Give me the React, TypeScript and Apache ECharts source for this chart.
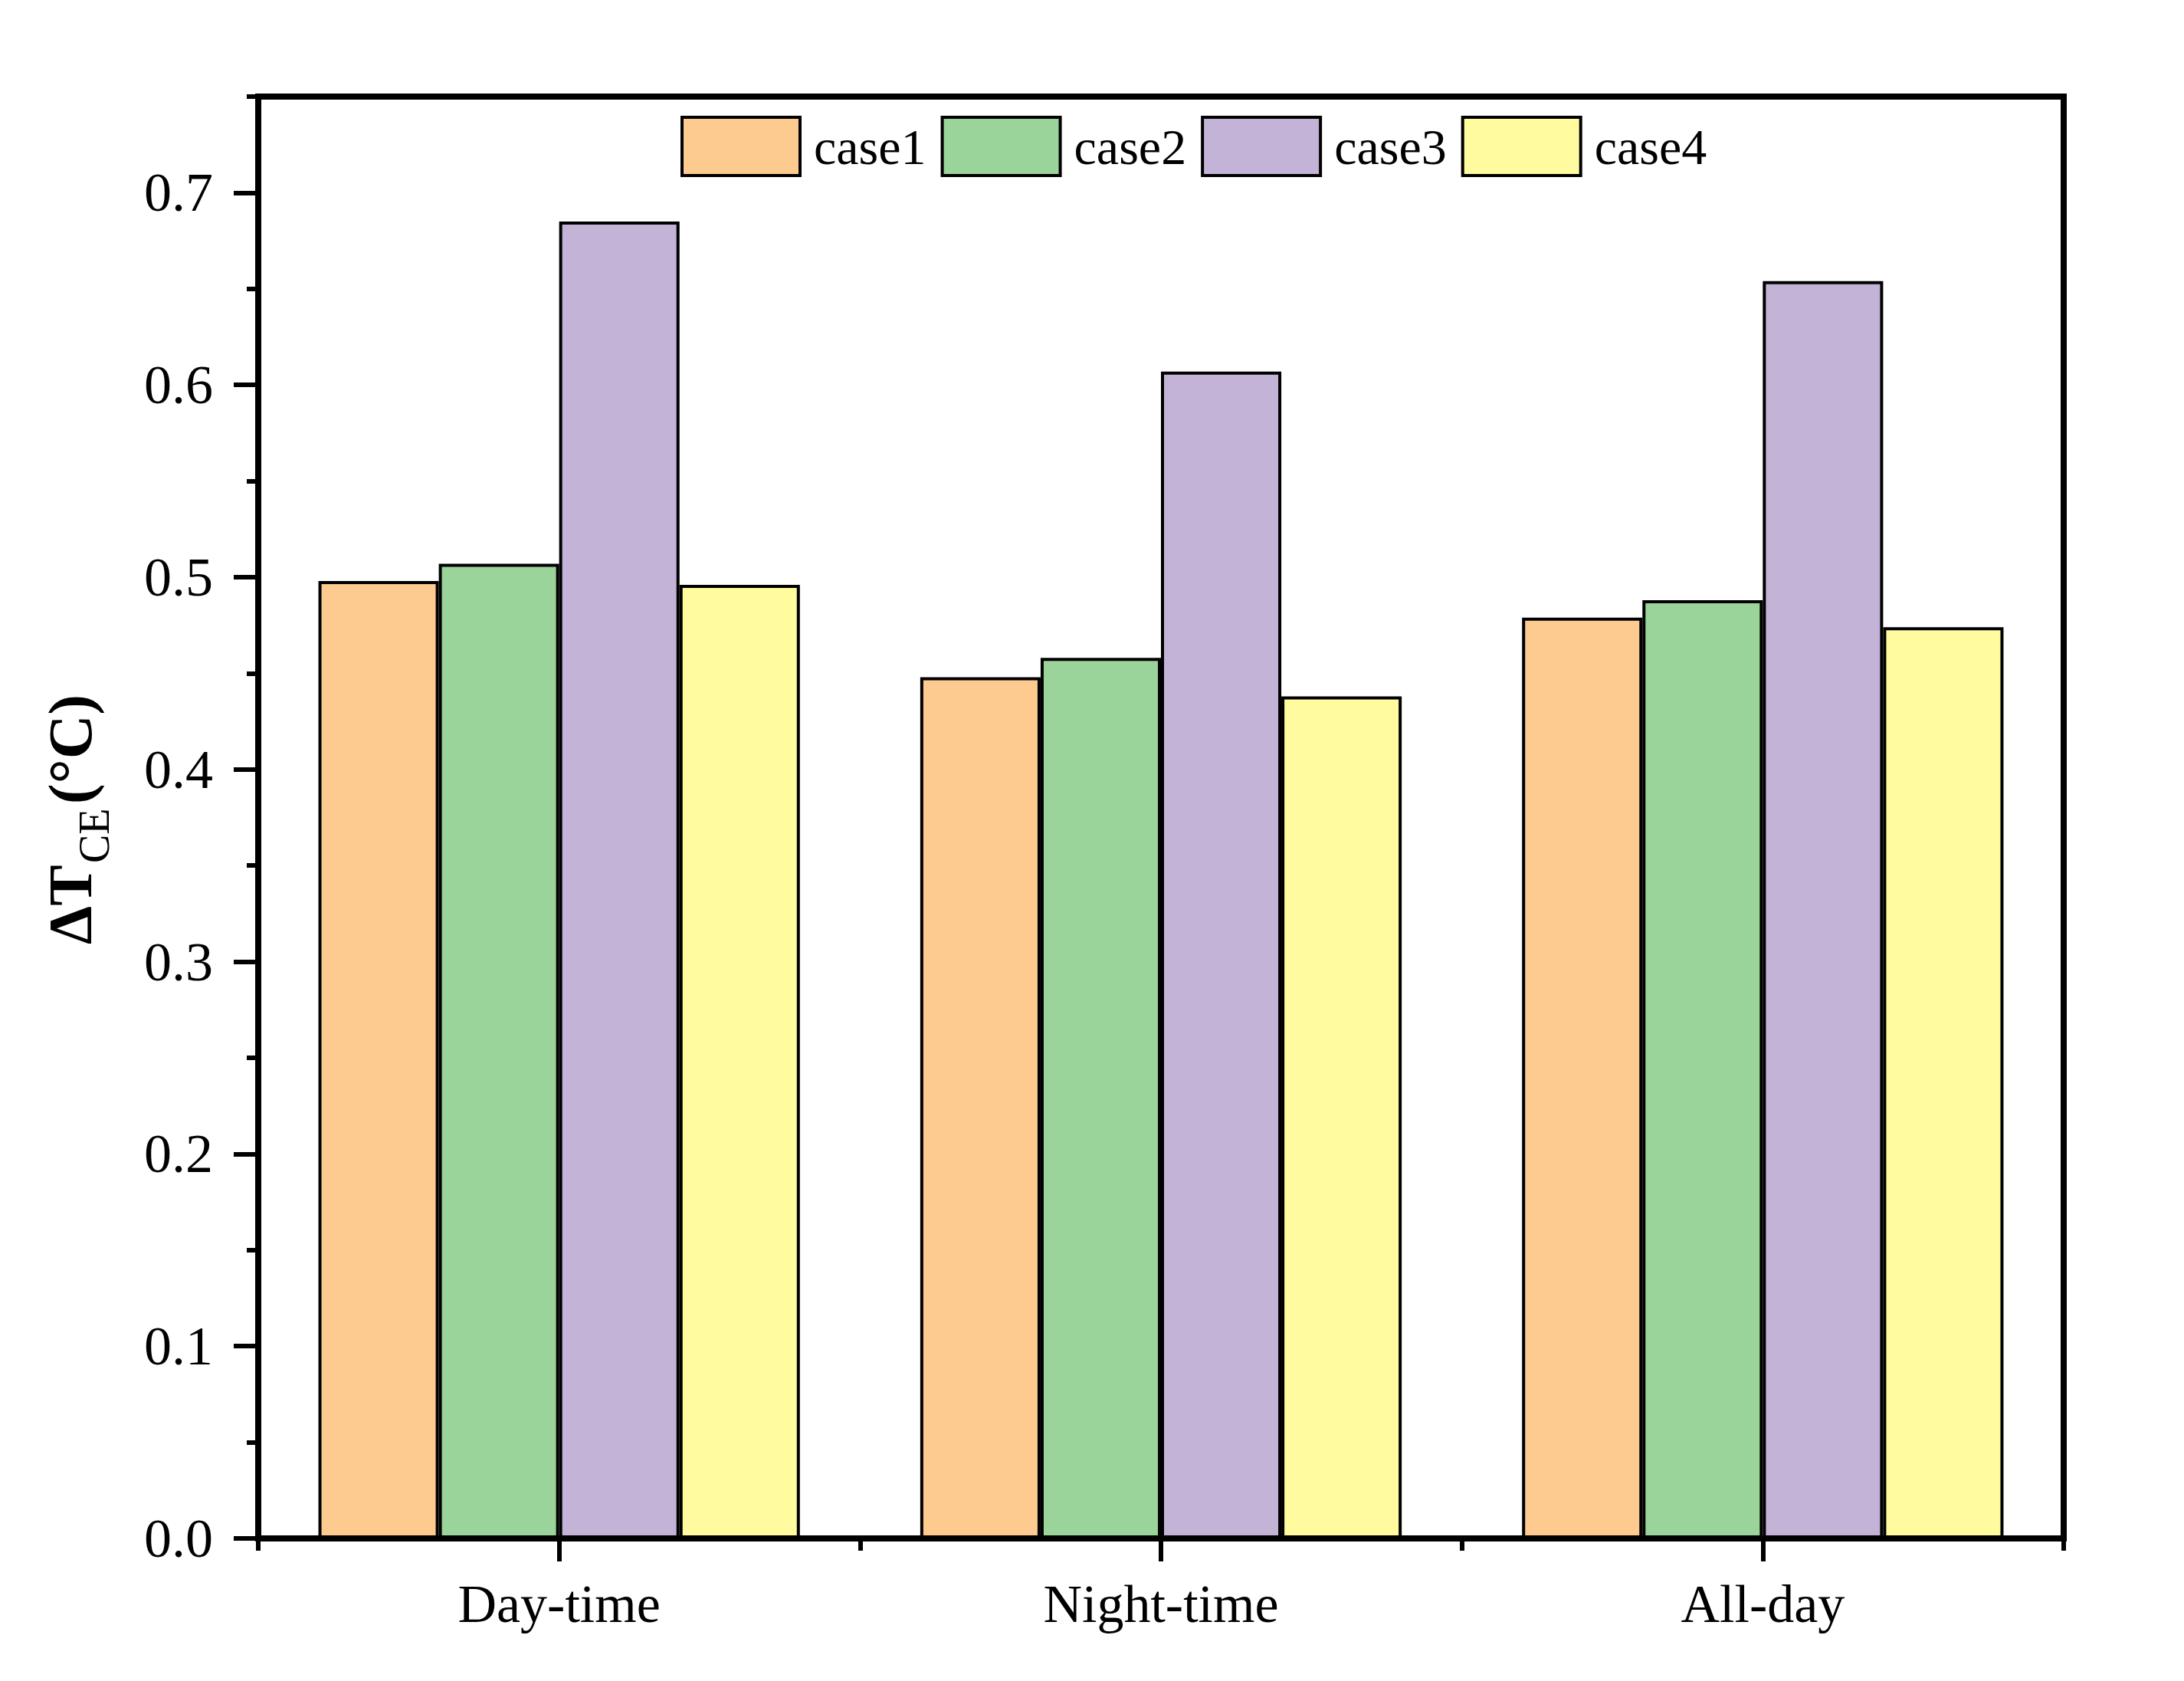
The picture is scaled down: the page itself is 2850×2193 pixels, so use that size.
import React, { useEffect, useRef } from "react";
import * as echarts from "echarts";

const categories = ["Day-time", "Night-time", "All-day"];
const seriesNames = ["case1", "case2", "case3", "case4"];
const case1 = [0.498, 0.448, 0.479];
const case2 = [0.507, 0.458, 0.488];
const case3 = [0.685, 0.607, 0.654];
const case4 = [0.496, 0.438, 0.474];
const majorTicks = [0, 0.1, 0.2, 0.3, 0.4, 0.5, 0.6, 0.7];
const minorTicks = [0.05, 0.15, 0.25, 0.35, 0.45, 0.55, 0.65, 0.75];
const colors = ["#FDCA8F", "#9AD49A", "#C3B3D7", "#FFFB9E"];

export default function App() {
  const ref = useRef<HTMLDivElement>(null);
  useEffect(() => {
    document.body.style.margin = "0";
    const chart = echarts.init(ref.current!, null, { renderer: "svg" });
    const font = "'Liberation Serif', 'Times New Roman', serif";
    const values = [case1, case2, case3, case4];
    chart.setOption({
      animation: false,
      backgroundColor: "#ffffff",
      grid: {
        left: 337,
        right: 157,
        top: 126,
        bottom: 186,
        show: true,
        borderColor: "#000",
        borderWidth: 8,
        backgroundColor: "transparent",
        containLabel: false,
      },
      legend: {
        left: 883,
        top: 146,
        itemWidth: 154,
        itemHeight: 76,
        itemGap: 19,
        icon: "rect",
        data: seriesNames,
        itemStyle: { borderColor: "#000", borderWidth: 4 },
        textStyle: {
          fontFamily: font,
          fontSize: 66,
          color: "#000",
          padding: [0, 0, 0, 13],
        },
      },
      xAxis: [
        {
          type: "category",
          data: categories,
          position: "bottom",
          axisLine: { lineStyle: { color: "#000", width: 8 } },
          axisTick: { show: true, length: 16, lineStyle: { color: "#000", width: 6 } },
          axisLabel: { fontFamily: font, fontSize: 70, color: "#000", margin: 50 },
          splitLine: { show: false },
        },
        {
          type: "category",
          data: categories,
          position: "bottom",
          axisLine: { show: false },
          axisTick: { show: true, alignWithLabel: true, length: 30, lineStyle: { color: "#000", width: 6 } },
          axisLabel: { show: false },
          splitLine: { show: false },
        },
      ],
      yAxis: [
        {
          type: "value",
          position: "left",
          min: 0,
          max: 0.75,
          interval: 0.05,
          axisLine: { show: true, lineStyle: { color: "#000", width: 8 } },
          axisTick: { show: true, customValues: majorTicks, length: 32, lineStyle: { color: "#000", width: 6 } },
          axisLabel: {
            customValues: majorTicks,
            formatter: (v: number) => v.toFixed(1),
            fontFamily: font,
            fontSize: 72,
            color: "#000",
            margin: 59,
          },
          splitLine: { show: false },
        },
        {
          type: "value",
          position: "left",
          min: 0,
          max: 0.75,
          interval: 0.05,
          axisLine: { show: false },
          axisTick: { show: true, customValues: minorTicks, length: 15, lineStyle: { color: "#000", width: 6 } },
          axisLabel: { show: false },
          splitLine: { show: false },
        },
      ],
      series: seriesNames.map((name, i) => ({
        name,
        type: "bar",
        xAxisIndex: 0,
        yAxisIndex: 0,
        data: values[i],
        barGap: "0%",
        barCategoryGap: "20%",
        itemStyle: { color: colors[i], borderColor: "#000", borderWidth: 4 },
      })),
      graphic: [
        {
          type: "group",
          x: 118,
          y: 1232,
          rotation: Math.PI / 2,
          children: [
            {
              type: "text",
              x: 0,
              y: -26,
              style: {
                text: "ΔT",
                fontFamily: font,
                fontSize: 80,
                fontWeight: "bold",
                fill: "#000",
                align: "left",
                verticalAlign: "middle",
              },
            },
            {
              type: "text",
              x: 106,
              y: 5,
              style: {
                text: "CE",
                fontFamily: font,
                fontSize: 56,
                fill: "#000",
                align: "left",
                verticalAlign: "middle",
              },
            },
            {
              type: "text",
              x: 183,
              y: -26,
              style: {
                text: "(°C)",
                fontFamily: font,
                fontSize: 80,
                fontWeight: "bold",
                fill: "#000",
                align: "left",
                verticalAlign: "middle",
              },
            },
          ],
        },
      ],
    });
    return () => chart.dispose();
  }, []);
  return <div ref={ref} style={{ width: "2850px", height: "2193px" }} />;
}
